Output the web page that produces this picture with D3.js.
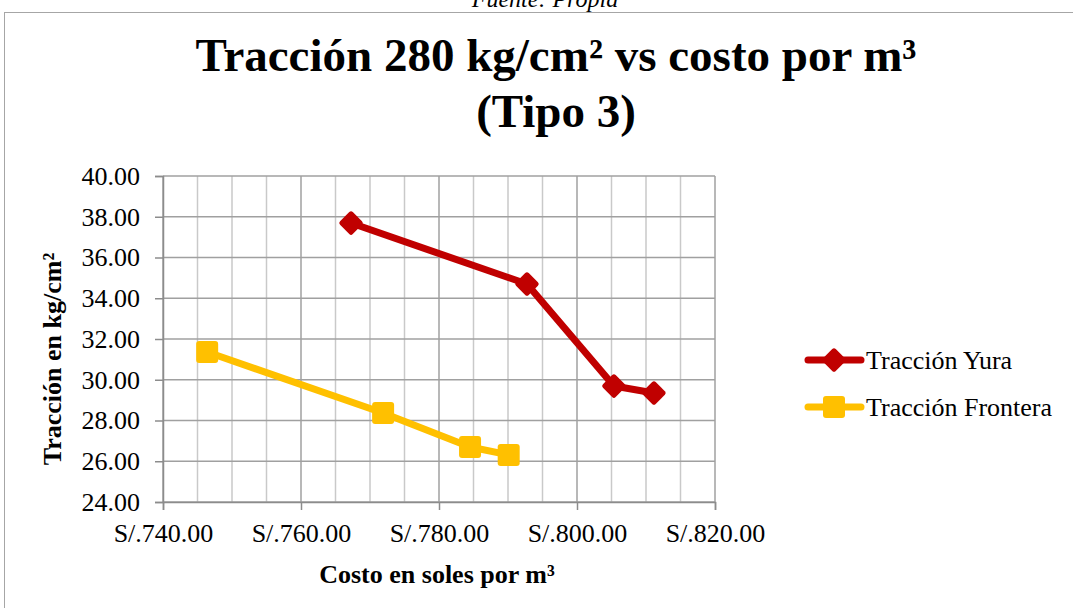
<!DOCTYPE html>
<html>
<head>
<meta charset="utf-8">
<script src="https://cdn.jsdelivr.net/npm/d3@7"></script>
<style>
body { margin: 0; background: #fff; }
svg { display: block; font-family: "Liberation Serif", "DejaVu Serif", serif; }
</style>
</head>
<body>
<svg id="chart" width="1073" height="608"></svg>
<script>
var seriesNames = ["Tracción Yura", "Tracción Frontera"];
var seriesColors = ["#C00000", "#FFC000"];
var yuraCost = [767.25, 792.75, 805.35, 811.15];
var yuraTraction = [37.69, 34.70, 29.69, 29.35];
var fronteraCost = [746.4, 771.9, 784.5, 790.1];
var fronteraTraction = [31.36, 28.37, 26.70, 26.31];
var xTicks = [740, 760, 780, 800, 820];
var yTicks = [24, 26, 28, 30, 32, 34, 36, 38, 40];

var svg = d3.select("#chart");
var W = 1073, H = 608;

// caption of the page, cut by the top edge as in the source
svg.append("text").attr("x", 545).attr("y", 7).attr("text-anchor", "middle")
    .style("font-size", "24px").style("font-style", "italic").text("Fuente: Propia");
svg.append("rect").attr("x", 4.5).attr("y", 12.5).attr("width", W - 4).attr("height", H - 10)
    .style("fill", "#fff").style("stroke", "#a6a6a6");

// title
var title = svg.append("text").attr("text-anchor", "middle")
    .style("font-size", "47px").style("font-weight", "bold");
title.append("tspan").attr("x", 556).attr("y", 71).text("Tracción 280 kg/cm² vs costo por m³");
title.append("tspan").attr("x", 556).attr("y", 127).text("(Tipo 3)");

var x = d3.scaleLinear().domain([740, 820]).range([163, 715]);
var y = d3.scaleLinear().domain([24, 40]).range([502, 176]);

// minor vertical grid
var minor = d3.range(740, 820.1, 5).filter(function (d) { return d % 20 != 0; });
svg.append("g").selectAll("line").data(minor).enter().append("line")
    .attr("x1", function (d) { return x(d); }).attr("x2", function (d) { return x(d); })
    .attr("y1", y(40)).attr("y2", y(24))
    .style("stroke", "#c9c9c9").style("stroke-width", 1.5);

// major grid
svg.append("g").selectAll("line").data(yTicks).enter().append("line")
    .attr("x1", x(740)).attr("x2", x(820))
    .attr("y1", function (d) { return y(d); }).attr("y2", function (d) { return y(d); })
    .style("stroke", "#a0a0a0").style("stroke-width", 1.5);
svg.append("g").selectAll("line").data(xTicks).enter().append("line")
    .attr("x1", function (d) { return x(d); }).attr("x2", function (d) { return x(d); })
    .attr("y1", y(40)).attr("y2", y(24))
    .style("stroke", "#a0a0a0").style("stroke-width", 1.5);

// axes
var xAxis = svg.append("g").attr("transform", "translate(0," + y(24) + ")")
    .call(d3.axisBottom(x).tickValues(xTicks).tickSize(8)
        .tickFormat(function (d) { return "S/." + d3.format(".2f")(d); }));
var yAxis = svg.append("g").attr("transform", "translate(" + x(740) + ",0)")
    .call(d3.axisLeft(y).tickValues(yTicks).tickSize(8).tickPadding(15)
        .tickFormat(d3.format(".2f")));
[xAxis, yAxis].forEach(function (a) {
    a.selectAll("path, line").style("stroke", "#8c8c8c").style("stroke-width", 1.5);
    a.selectAll("text").style("font-size", "26px").style("fill", "#000")
        .style("font-family", "Liberation Serif, serif");
});
xAxis.selectAll("text").attr("y", 40).attr("dy", 0);

// axis titles
svg.append("text").attr("x", 437).attr("y", 583).attr("text-anchor", "middle")
    .style("font-size", "26px").style("font-weight", "bold").text("Costo en soles por m³");
svg.append("text").attr("transform", "translate(61,359) rotate(-90)").attr("text-anchor", "middle")
    .style("font-size", "26px").style("font-weight", "bold").text("Tracción en kg/cm²");

// series
var series = [
    { cost: yuraCost, val: yuraTraction, marker: "diamond" },
    { cost: fronteraCost, val: fronteraTraction, marker: "square" }
];
var line = d3.line().x(function (d) { return x(d[0]); }).y(function (d) { return y(d[1]); });

function drawMarker(g, type, cx, cy, color) {
    if (type == "diamond") {
        g.append("rect").attr("x", -9).attr("y", -9).attr("width", 18).attr("height", 18)
            .attr("rx", 2.5)
            .attr("transform", "translate(" + cx + "," + cy + ") rotate(45)")
            .style("fill", color);
    } else {
        g.append("rect").attr("x", cx - 11).attr("y", cy - 11).attr("width", 22).attr("height", 22)
            .attr("rx", 3).style("fill", color);
    }
}

series.forEach(function (s, i) {
    var pts = s.cost.map(function (c, j) { return [c, s.val[j]]; });
    var g = svg.append("g");
    g.append("path").attr("d", line(pts))
        .style("fill", "none").style("stroke", seriesColors[i]).style("stroke-width", 7)
        .style("stroke-linejoin", "round");
    pts.forEach(function (p) {
        drawMarker(g, s.marker, x(p[0]), y(p[1]), seriesColors[i]);
    });

    // legend entry
    var ly = 360 + i * 47;
    var lg = svg.append("g");
    lg.append("line").attr("x1", 808).attr("x2", 861).attr("y1", ly).attr("y2", ly)
        .style("stroke", seriesColors[i]).style("stroke-width", 7).style("stroke-linecap", "round");
    drawMarker(lg, s.marker, 834, ly, seriesColors[i]);
    lg.append("text").attr("x", 866).attr("y", ly + 9)
        .style("font-size", "26px").text(seriesNames[i]);
});
</script>
</body>
</html>
